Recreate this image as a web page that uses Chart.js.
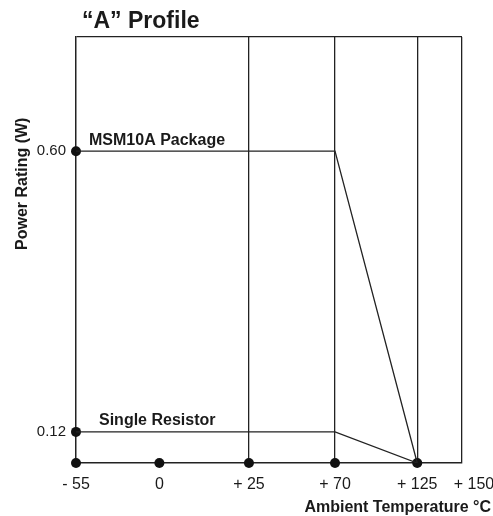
<!DOCTYPE html>
<html>
<head>
<meta charset="utf-8">
<script src="https://cdn.jsdelivr.net/npm/chart.js@4.4.1/dist/chart.umd.min.js"></script>
<style>
  html, body { margin: 0; padding: 0; background: #fff; }
  #wrap { width: 493px; height: 516px; }
</style>
</head>
<body>
<div id="wrap"><canvas id="profile" width="493" height="516"></canvas></div>
<script>
// chart values
const tempTicks = [-55, 0, 25, 70, 125, 150];
const tempLabels = ["- 55", "0", "+ 25", "+ 70", "+ 125", "+ 150"];
const gridTemps = [25, 70, 125, 150];
const powerTicks = [0.12, 0.60];
const powerLabels = ["0.12", "0.60"];
const curveTemps = [-55, 70, 125];
const packageWatts = [0.60, 0.60, 0];
const resistorWatts = [0.12, 0.12, 0];
const markerTemps = [-55, 0, 25, 70, 125, -55, -55];
const markerWatts = [0, 0, 0, 0, 0, 0.12, 0.60];

const ink = "#222";
const FONT = "'Liberation Sans', Arial, Helvetica, sans-serif";

// linear scale drawn piecewise (the derating sheet is not to scale)
class PiecewiseScale extends Chart.LinearScale {
  _frac(v) {
    const s = this.options.stops, f = this.options.fracs;
    if (v <= s[0]) return f[0];
    for (let i = 1; i < s.length; i++) {
      if (v <= s[i]) return f[i - 1] + (v - s[i - 1]) / (s[i] - s[i - 1]) * (f[i] - f[i - 1]);
    }
    return f[f.length - 1];
  }
  getPixelForValue(v) {
    return this.getPixelForDecimal(this._frac(v));
  }
  getValueForPixel(p) {
    const d = this.getDecimalForPixel(p);
    const s = this.options.stops, f = this.options.fracs;
    for (let i = 1; i < f.length; i++) {
      if (d <= f[i]) return s[i - 1] + (d - f[i - 1]) / (f[i] - f[i - 1]) * (s[i] - s[i - 1]);
    }
    return s[s.length - 1];
  }
}
PiecewiseScale.id = "piecewise";
PiecewiseScale.defaults = {};
Chart.register(PiecewiseScale);

const notes = {
  id: "notes",
  afterDatasetsDraw(chart) {
    const { ctx, chartArea } = chart;
    ctx.save();
    ctx.fillStyle = "#1a1a1a";
    ctx.textBaseline = "alphabetic";

    ctx.font = "bold 23px " + FONT;
    ctx.textAlign = "left";
    ctx.fillText("\u201CA\u201D Profile", chartArea.left + 6, 28);

    // curve labels
    ctx.font = "bold 16px " + FONT;
    chart.data.datasets.forEach((ds, i) => {
      if (!ds.tag) return;
      const pt = chart.getDatasetMeta(i).data[0];
      ctx.fillText(ds.label, pt.x + ds.tag.dx, pt.y + ds.tag.dy);
    });

    ctx.textAlign = "right";
    ctx.fillText("Ambient Temperature \u00B0C", 491, 512);

    ctx.translate(27, 250);
    ctx.rotate(-Math.PI / 2);
    ctx.textAlign = "left";
    ctx.fillText("Power Rating (W)", 0, 0);
    ctx.restore();
  },
};

new Chart(document.getElementById("profile"), {
  type: "line",
  data: {
    datasets: [
      {
        label: "MSM10A Package",
        data: curveTemps.map((t, i) => ({ x: t, y: packageWatts[i] })),
        borderColor: ink,
        borderWidth: 1.3,
        pointRadius: 0,
        tension: 0,
        tag: { dx: 13, dy: -6 },
      },
      {
        label: "Single Resistor",
        data: curveTemps.map((t, i) => ({ x: t, y: resistorWatts[i] })),
        borderColor: ink,
        borderWidth: 1.3,
        pointRadius: 0,
        tension: 0,
        tag: { dx: 23, dy: -7 },
      },
      {
        label: "markers",
        data: markerTemps.map((t, i) => ({ x: t, y: markerWatts[i] })),
        showLine: false,
        pointRadius: 5,
        pointBackgroundColor: "#111",
        pointBorderWidth: 0,
        clip: false,
      },
    ],
  },
  options: {
    responsive: false,
    animation: false,
    layout: { padding: { top: 37, right: 31, left: 0, bottom: 0 } },
    scales: {
      x: {
        type: "piecewise",
        min: -55,
        max: 150,
        stops: tempTicks,
        fracs: [0, 0.216, 0.448, 0.671, 0.884, 1],
        afterBuildTicks: (s) => { s.ticks = tempTicks.map((v) => ({ value: v })); },
        afterFit: (s) => { s.height = 53; s.paddingRight = 0; s.paddingLeft = 0; },
        border: { display: true, color: ink, width: 1.5 },
        grid: {
          drawTicks: false,
          lineWidth: 1.3,
          color: (c) => (c.tick && gridTemps.includes(c.tick.value) ? ink : "rgba(0,0,0,0)"),
        },
        ticks: {
          padding: 12,
          color: "#1a1a1a",
          font: { family: FONT, size: 16 },
          maxRotation: 0,
          autoSkip: false,
          callback: (v) => {
            const k = tempTicks.indexOf(v);
            // last label sits a little right of its edge line on the sheet
            return (k === tempTicks.length - 1 ? "\u2003\u2002" : "") + tempLabels[k];
          },
        },
      },
      y: {
        type: "piecewise",
        min: 0,
        max: 0.8,
        stops: [0, 0.12, 0.60, 0.8],
        fracs: [0, 0.073, 0.732, 1],
        afterBuildTicks: (s) => { s.ticks = powerTicks.concat([0.8]).map((v) => ({ value: v })); },
        afterFit: (s) => { s.width = 76; },
        border: { display: true, color: ink, width: 1.5 },
        grid: {
          drawTicks: false,
          lineWidth: 1.3,
          color: (c) => (c.tick && c.tick.value === 0.8 ? ink : "rgba(0,0,0,0)"),
        },
        ticks: {
          padding: 10,
          color: "#1a1a1a",
          font: { family: FONT, size: 15 },
          autoSkip: false,
          callback: (v) => {
            const k = powerTicks.indexOf(v);
            return k < 0 ? "" : powerLabels[k];
          },
        },
      },
    },
    plugins: {
      legend: { display: false },
      tooltip: { enabled: false },
    },
  },
  plugins: [notes],
});
</script>
</body>
</html>
